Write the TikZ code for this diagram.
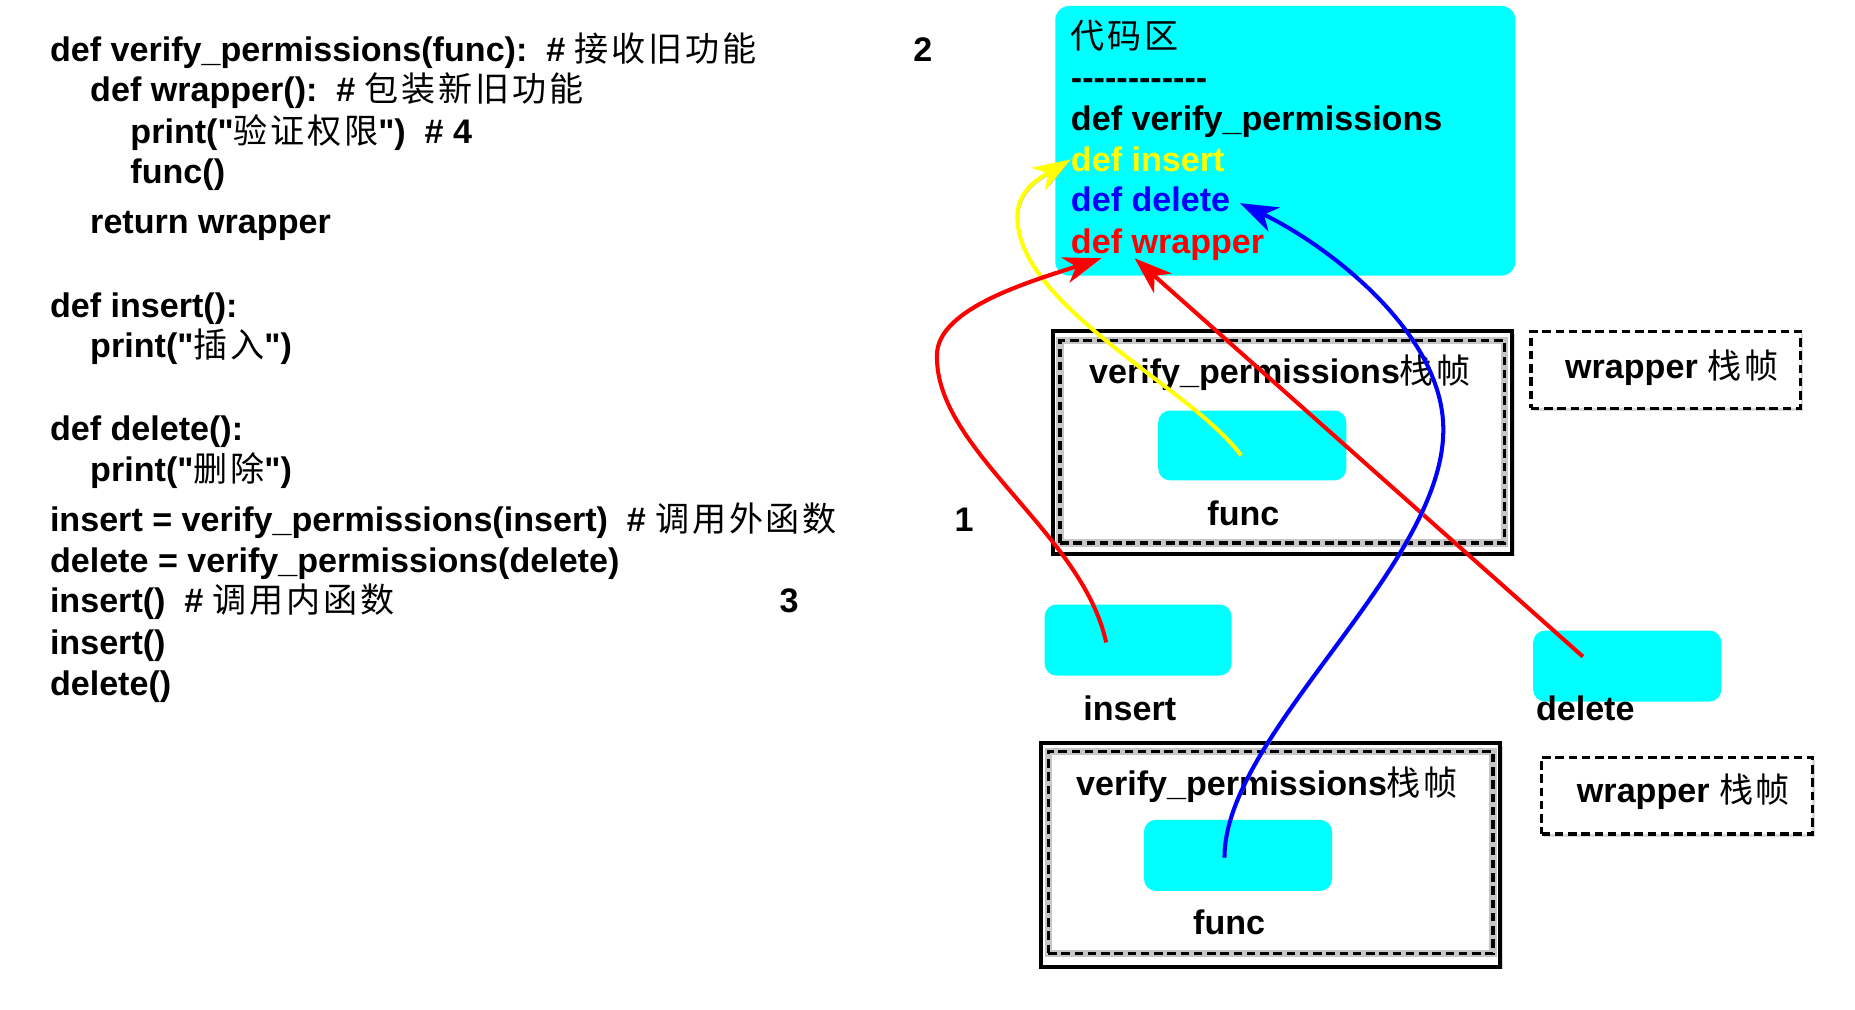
\documentclass[tikz,border=0pt]{standalone}
\usepackage{fontspec}
\setmainfont{Liberation Sans}[Ligatures=TeXOff]
\newfontfamily\cjk{Noto Sans CJK SC}[LetterSpace=8]
\usetikzlibrary{arrows.meta,calc,shadows}

\definecolor{aqua}{RGB}{0,255,255}
\definecolor{pyellow}{RGB}{255,255,0}
\definecolor{pblue}{RGB}{0,0,255}
\definecolor{pred}{RGB}{255,0,0}

\newcommand\zh[1]{{\cjk\mdseries #1}}
\newcommand\hy{\mbox{-}}

\tikzset{
    code/.style={anchor=base west, inner sep=0pt},
    cyanbox/.style={fill=aqua, rounded corners=2.5mm, inner sep=0pt},
    frameout/.style={draw=black, line width=0.85mm, fill=white, inner sep=0pt,
        drop shadow={shadow xshift=1.6pt, shadow yshift=-1.6pt, opacity=0.3}},
    framein/.style={draw=black, line width=0.7mm, dash pattern=on 1.8mm off 1mm, inner sep=0pt,
        preaction={draw=gray!45, line width=1.5mm, solid}},
    wrapbox/.style={draw=black, line width=0.7mm, dash pattern=on 1.8mm off 1mm, fill=white, inner sep=0pt,
        drop shadow={shadow xshift=1.6pt, shadow yshift=-1.6pt, opacity=0.3}},
    link/.style={line width=0.85mm, -{Stealth[length=8mm, width=5.6mm, inset=2.4mm]},
        preaction={draw=black!30, transform canvas={shift={(0.9pt,-0.9pt)}}}}
}

\begin{document}
\begin{tikzpicture}[x=0.25mm, y=-0.25mm, every node/.style={font=\fontsize{20.5}{24}\selectfont\bfseries}]
    \useasboundingbox (0,0) rectangle (1568,853);

    % source code
    \node[code] (l1) at (42,52) {def verify\_permissions(func):\ \ \# \zh{接收旧功能}};
    \node[code] (l2) at (76,86) {def wrapper():\ \ \# \zh{包装新旧功能}};
    \node[code] (l3) at (110,121) {print("\zh{验证权限}")\ \ \# 4};
    \node[code] (l4) at (110,155) {func()};
    \node[code] (l5) at (76,197) {return wrapper};
    \node[code] (l6) at (42,268) {def insert():};
    \node[code] (l7) at (76,302) {print("\zh{插入}")};
    \node[code] (l8) at (42,372) {def delete():};
    \node[code] (l9) at (76,407) {print("\zh{删除}")};
    \node[code] (l10) at (42,449.5) {insert = verify\_permissions(insert)\ \ \# \zh{调用外函数}};
    \node[code] (l11) at (42,483.5) {delete = verify\_permissions(delete)};
    \node[code] (l12) at (42,518) {insert()\ \ \# \zh{调用内函数}};
    \node[code] (l13) at (42,553.5) {insert()};
    \node[code] (l14) at (42,587.5) {delete()};

    \node[code, anchor=base] (n2) at (780,52) {2};
    \node[code, anchor=base] (n1) at (815,449.5) {1};
    \node[code, anchor=base] (n3) at (667,518) {3};

    % code area
    \node[cyanbox, rounded corners=3mm, minimum width=97.25mm, minimum height=57mm] (code) at (1086.5,119) {};
    \node[code] (cz) at (905,41) {\zh{代码区}};
    \node[code] (dash) at (905,75.5) {\hy\hy\hy\hy\hy\hy\hy\hy\hy\hy\hy\hy};
    \node[code] (dvp) at (905,110) {def verify\_permissions};
    \node[code, text=pyellow] (dins) at (905,145) {def insert};
    \node[code, text=pblue] (ddel) at (905,179) {def delete};
    \node[code, text=pred] (dwrp) at (905,214) {def wrapper};

    % first call
    \node[frameout, minimum width=97mm, minimum height=47mm] (fr1) at (1084,374) {};
    \node[framein, minimum width=94mm, minimum height=42.75mm] (fi1) at (1084,373.5) {};
    \node[code, anchor=base] (t1) at (1082,324) {verify\_permissions\zh{栈帧}};
    \node[cyanbox, minimum width=39.75mm, minimum height=14.75mm] (f1) at (1058.5,376.5) {};
    \node[code, anchor=base] (fl1) at (1051,444) {func};
    \node[wrapbox, minimum width=57mm, minimum height=16.25mm] (w1) at (1408,312.5) {};
    \node[code, anchor=base] (wt1) at (1413,320) {wrapper \zh{栈帧}};

    % global names
    \node[cyanbox, minimum width=39.5mm, minimum height=15mm] (ins) at (962,541) {};
    \node[code, anchor=base] (insl) at (955,609) {insert};
    \node[cyanbox, minimum width=39.75mm, minimum height=15mm] (del) at (1375.5,563) {};
    \node[code, anchor=base] (dell) at (1340,609) {delete};

    % second call
    \node[frameout, minimum width=97mm, minimum height=47.25mm] (fr2) at (1074,722.5) {};
    \node[framein, minimum width=94mm, minimum height=42.75mm] (fi2) at (1074,720.5) {};
    \node[code, anchor=base] (t2) at (1071,672) {verify\_permissions\zh{栈帧}};
    \node[cyanbox, minimum width=39.75mm, minimum height=15mm] (f2) at (1046.5,723) {};
    \node[code, anchor=base] (fl2) at (1039,790) {func};
    \node[wrapbox, minimum width=57.25mm, minimum height=16.25mm] (w2) at (1417.5,672.5) {};
    \node[code, anchor=base] (wt2) at (1423,678) {wrapper \zh{栈帧}};

    % references
    \draw[link, pyellow] ($(f1.center)+(-9.5,8.5)$) .. controls (1010,330) and (862,260) .. (860,185)
        .. controls (859,160) and (880,150) .. (dins.west);
    \draw[link, pred] ($(ins.center)+(-27,2)$) .. controls (915,450) and (790,380) .. (792,300)
        .. controls (792,260) and (874,237) .. ($(dwrp.south west)+(26,-2)$);
    \draw[link, pred] ($(del.center)+(-37.5,-8)$) -- ($(dwrp.south west)+(54,-2)$);
    \draw[link, pblue] ($(f2.center)+(-11.5,2)$) .. controls (1035,620) and (1220,480) .. (1220,363)
        .. controls (1220,280) and (1120,206) .. ($(ddel.east)+(8,3)$);
\end{tikzpicture}
\end{document}
